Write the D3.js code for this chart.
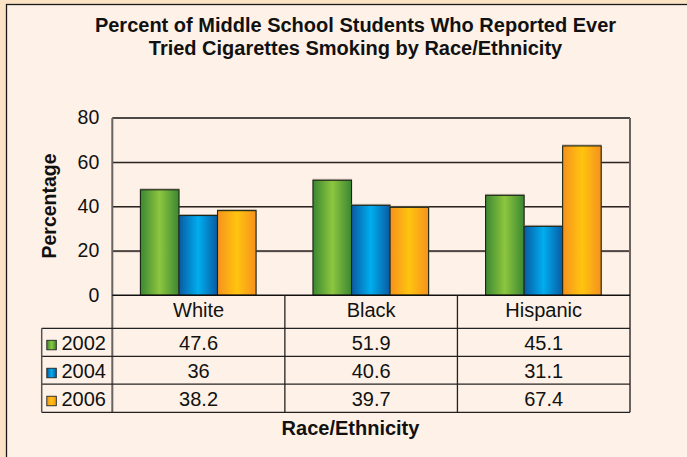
<!DOCTYPE html>
<html><head><meta charset="utf-8">
<script src="https://cdn.jsdelivr.net/npm/d3@7"></script>
<style>html,body{margin:0;padding:0;background:#FCE3C5;}svg{display:block;}</style>
</head><body>
<svg id="chart" width="687" height="457"></svg>
<script>
const categories = ["White", "Black", "Hispanic"];
const seriesNames = ["2002", "2004", "2006"];
const values2002 = [47.6, 51.9, 45.1];
const values2004 = [36, 40.6, 31.1];
const values2006 = [38.2, 39.7, 67.4];
const valueLabels2002 = ["47.6", "51.9", "45.1"];
const valueLabels2004 = ["36", "40.6", "31.1"];
const valueLabels2006 = ["38.2", "39.7", "67.4"];
const yTicks = [0, 20, 40, 60, 80];
const titleLines = ["Percent of Middle School Students Who Reported Ever", "Tried Cigarettes Smoking by Race/Ethnicity"];
const yTitle = "Percentage";
const xTitle = "Race/Ethnicity";

const series = [
  {name: seriesNames[0], values: values2002, labels: valueLabels2002, dark: "#3b8832", light: "#8dc63f"},
  {name: seriesNames[1], values: values2004, labels: valueLabels2004, dark: "#0a5aa3", light: "#00aeef"},
  {name: seriesNames[2], values: values2006, labels: valueLabels2006, dark: "#f6911e", light: "#ffc40f"}
];

const svg = d3.select("#chart");
const font = "'Liberation Sans', Arial, Helvetica, sans-serif";

// panel
svg.append("rect").attr("x", 0).attr("y", 0).attr("width", 687).attr("height", 457).attr("fill", "#FCE3C5");
svg.append("rect").attr("x", 6.5).attr("y", 4.5).attr("width", 700).attr("height", 470)
  .attr("fill", "#FEF1E7").attr("stroke", "#1a1a1a").attr("stroke-width", 1.3);

// gradients
const defs = svg.append("defs");
series.forEach((s, i) => {
  const g = defs.append("linearGradient").attr("id", "grad" + i).attr("x1", 0).attr("x2", 1).attr("y1", 0).attr("y2", 0);
  g.append("stop").attr("offset", "0%").attr("stop-color", s.dark);
  g.append("stop").attr("offset", "50%").attr("stop-color", s.light);
  g.append("stop").attr("offset", "100%").attr("stop-color", s.dark);
});

// title
svg.append("g").selectAll("text").data(titleLines).join("text")
  .attr("x", 355.5).attr("y", (d, i) => 32.3 + i * 22.8)
  .attr("text-anchor", "middle").attr("font-family", font).attr("font-weight", "bold")
  .attr("font-size", 20).attr("fill", "#111")
  .text(d => d);

const plotL = 112.3, plotR = 630, plotT = 118, plotB = 295.3;
const y = d3.scaleLinear().domain([0, 80]).range([plotB, plotT]);
const x = d3.scaleBand().domain(categories).range([plotL, plotR]).padding(0);
const bw = x.bandwidth();
const xs = d3.scaleBand().domain(seriesNames).range([bw * 0.163, bw * 0.833]).padding(0);

// gridlines
const grid = svg.append("g");
yTicks.filter(t => t > 0 && t < 80).forEach(t => {
  grid.append("line").attr("x1", plotL).attr("x2", plotR).attr("y1", y(t) + 0.8).attr("y2", y(t) + 0.8)
    .attr("stroke", "#a89a92").attr("stroke-width", 1);
  grid.append("line").attr("x1", plotL).attr("x2", plotR).attr("y1", y(t)).attr("y2", y(t))
    .attr("stroke", "#2a2523").attr("stroke-width", 1.3);
});

// bars
const gBars = svg.append("g");
categories.forEach((c, ci) => {
  series.forEach((s, si) => {
    const bx = x(c) + xs(s.name);
    const v = s.values[ci];
    gBars.append("rect").attr("x", bx - 0.5).attr("y", y(v) - 1.5).attr("width", xs.bandwidth() + 1).attr("height", plotB - y(v) + 1.5)
      .attr("fill", "#8a7e78").attr("opacity", 0.55);
    gBars.append("rect").attr("x", bx).attr("y", y(v)).attr("width", xs.bandwidth()).attr("height", plotB - y(v))
      .attr("fill", "url(#grad" + si + ")").attr("stroke", "#1c2614").attr("stroke-width", 1.1);
  });
});

// y axis
const yAxis = d3.axisLeft(y).tickValues(yTicks).tickSize(0).tickPadding(13);
const ya = svg.append("g").attr("transform", `translate(${plotL},0)`).call(yAxis);
ya.select(".domain").remove();
ya.selectAll("text").attr("font-family", font).attr("font-size", 19.5).attr("fill", "#111").attr("dy", "0.3em");

// plot borders
svg.append("line").attr("x1", plotL).attr("x2", plotR).attr("y1", plotT).attr("y2", plotT).attr("stroke", "#111").attr("stroke-width", 1.4);
svg.append("line").attr("x1", plotL).attr("x2", plotL).attr("y1", plotT).attr("y2", 412.3).attr("stroke", "#6a6360").attr("stroke-width", 2);
svg.append("line").attr("x1", plotR).attr("x2", plotR).attr("y1", plotT).attr("y2", 412.3).attr("stroke", "#6a6360").attr("stroke-width", 2);

// table
const tableL = 41.7;
const rowTops = [plotB, 328.3, 356.3, 384.2, 412.3];
const tbl = svg.append("g");
tbl.append("line").attr("x1", plotL).attr("x2", plotR).attr("y1", plotB).attr("y2", plotB).attr("stroke", "#111").attr("stroke-width", 1.5);
[1, 2, 3, 4].forEach(r => {
  tbl.append("line").attr("x1", tableL).attr("x2", plotR).attr("y1", rowTops[r]).attr("y2", rowTops[r])
    .attr("stroke", "#222").attr("stroke-width", 1.3);
});
tbl.append("line").attr("x1", tableL).attr("x2", tableL).attr("y1", rowTops[1]).attr("y2", rowTops[4]).attr("stroke", "#555").attr("stroke-width", 1.5);
categories.slice(1).forEach(c => {
  tbl.append("line").attr("x1", x(c)).attr("x2", x(c)).attr("y1", plotB).attr("y2", rowTops[4]).attr("stroke", "#222").attr("stroke-width", 1.3);
});
// header labels
tbl.selectAll("text.cat").data(categories).join("text").attr("class", "cat")
  .attr("x", d => x(d) + bw / 2).attr("y", (rowTops[0] + rowTops[1]) / 2 + 5)
  .attr("text-anchor", "middle").attr("font-family", font).attr("font-size", 20).attr("fill", "#111").text(d => d);
// rows
series.forEach((s, si) => {
  const cy = (rowTops[si + 1] + rowTops[si + 2]) / 2;
  tbl.append("rect").attr("x", 46.8).attr("y", cy - 2).attr("width", 9.5).attr("height", 9.5)
    .attr("fill", "url(#grad" + si + ")").attr("stroke", "#222").attr("stroke-width", 0.9);
  tbl.append("text").attr("x", 61.5).attr("y", cy + 7.5).attr("font-family", font).attr("font-size", 20).attr("fill", "#111").text(s.name);
  categories.forEach((c, ci) => {
    tbl.append("text").attr("x", x(c) + bw / 2).attr("y", cy + 7.5).attr("text-anchor", "middle")
      .attr("font-family", font).attr("font-size", 20).attr("fill", "#111").text(s.labels[ci]);
  });
});

// axis titles
svg.append("text").attr("transform", `translate(56,206) rotate(-90)`).attr("text-anchor", "middle")
  .attr("font-family", font).attr("font-weight", "bold").attr("font-size", 19.5).attr("fill", "#111").text(yTitle);
svg.append("text").attr("x", 350.5).attr("y", 435).attr("text-anchor", "middle")
  .attr("font-family", font).attr("font-weight", "bold").attr("font-size", 20).attr("fill", "#111").text(xTitle);
</script>
</body></html>
